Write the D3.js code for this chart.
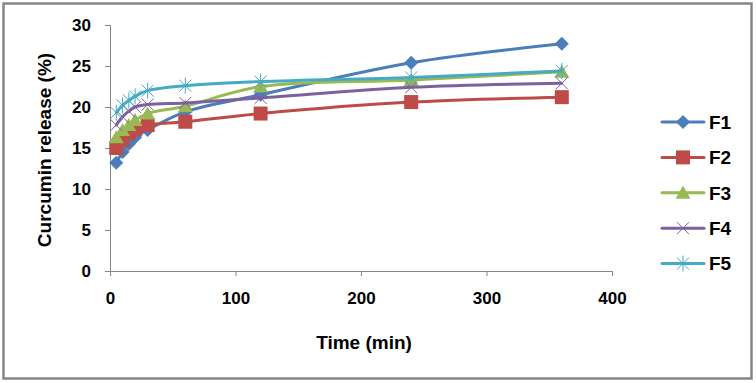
<!DOCTYPE html>
<html>
<head>
<meta charset="utf-8">
<script src="https://cdn.jsdelivr.net/npm/d3@7/dist/d3.min.js"></script>
<style>
  body { margin: 0; background: #fff; }
  svg { display: block; font-family: "Liberation Sans", Arial, sans-serif; }
</style>
</head>
<body>
<svg id="chart" width="756" height="383"></svg>
<script>
// sampling times (min)
const times = [5, 10, 15, 20, 30, 60, 120, 240, 360];

// curcumin release (%) per formulation
const f1 = [13.2, 14.5, 15.5, 16.3, 17.2, 19.4, 21.5, 25.4, 27.7];
const f2 = [15.0, 16.0, 16.8, 17.3, 17.8, 18.2, 19.2, 20.6, 21.2];
const f3 = [16.3, 17.2, 17.8, 18.4, 19.2, 20.1, 22.5, 23.3, 24.3];
const f4 = [17.8, 18.8, 19.5, 20.0, 20.3, 20.5, 21.1, 22.4, 22.9];
const f5 = [19.3, 20.2, 20.8, 21.3, 22.0, 22.6, 23.1, 23.6, 24.4];

const seriesNames = ['F1', 'F2', 'F3', 'F4', 'F5'];
const seriesValues = [f1, f2, f3, f4, f5];
const colors = ['#4A7EBB', '#BE4B48', '#98B954', '#7D60A0', '#46AAC5'];
const markers = ['diamond', 'square', 'triangle', 'x', 'star'];

const xTicks = [0, 100, 200, 300, 400];
const yTicks = [0, 5, 10, 15, 20, 25, 30];

const svg = d3.select('#chart');
const margin = { top: 25, left: 110, right: 144, bottom: 112 };
const width = 756 - margin.left - margin.right;
const height = 383 - margin.top - margin.bottom;

// chart area border
svg.append('rect')
  .attr('x', 3.5).attr('y', 3.5)
  .attr('width', 748).attr('height', 375)
  .attr('fill', '#fff')
  .attr('stroke', '#868686')
  .attr('stroke-width', 2.5);

const g = svg.append('g')
  .attr('transform', `translate(${margin.left},${margin.top})`);

const x = d3.scaleLinear().domain([0, 400]).range([0, width]);
const y = d3.scaleLinear().domain([0, 30]).range([height, 0]);

// Y axis
const yAxis = g.append('g')
  .call(d3.axisLeft(y).tickValues(yTicks).tickSize(5).tickPadding(14))
  .style('font-family', '"Liberation Sans", Arial, sans-serif')
  .style('font-size', '17px')
  .style('font-weight', 'bold');
yAxis.select('.domain').attr('stroke', '#868686');
yAxis.selectAll('.tick line').attr('stroke', '#868686');
yAxis.selectAll('.tick text').attr('fill', '#000');

// X axis
const xAxis = g.append('g')
  .attr('transform', `translate(0,${height})`)
  .call(d3.axisBottom(x).tickValues(xTicks).tickSize(5).tickPadding(16))
  .style('font-family', '"Liberation Sans", Arial, sans-serif')
  .style('font-size', '17px')
  .style('font-weight', 'bold');
xAxis.select('.domain').attr('stroke', '#868686');
xAxis.selectAll('.tick line').attr('stroke', '#868686');
xAxis.selectAll('.tick text').attr('fill', '#000');

// axis titles
svg.append('text')
  .attr('x', 364).attr('y', 349)
  .attr('text-anchor', 'middle')
  .style('font-size', '19px').style('font-weight', 'bold')
  .text('Time (min)');

svg.append('text')
  .attr('transform', 'translate(51,150) rotate(-90)')
  .attr('text-anchor', 'middle')
  .style('font-size', '19px').style('font-weight', 'bold')
  .text('Curcumin release (%)');

function drawMarker(sel, type, color) {
  if (type === 'diamond') {
    sel.append('path').attr('d', 'M0,-7L7,0L0,7L-7,0Z').attr('fill', color);
  } else if (type === 'square') {
    sel.append('rect').attr('x', -7).attr('y', -7).attr('width', 14).attr('height', 14).attr('fill', color);
  } else if (type === 'triangle') {
    sel.append('path').attr('d', 'M0,-7L7.5,6L-7.5,6Z').attr('fill', color);
  } else if (type === 'x') {
    sel.append('path').attr('d', 'M-6,-6L6,6M-6,6L6,-6')
      .attr('stroke', color).attr('stroke-width', 1).attr('fill', 'none');
  } else if (type === 'star') {
    sel.append('path').attr('d', 'M-6,-6L6,6M-6,6L6,-6M0,-8L0,8')
      .attr('stroke', color).attr('stroke-width', 1).attr('fill', 'none');
  }
}

const line = d3.line()
  .x(d => x(d[0]))
  .y(d => y(d[1]))
  .curve(d3.curveCatmullRom.alpha(0.5));

seriesValues.forEach((vals, i) => {
  const pts = times.map((t, j) => [t, vals[j]]);
  const sg = g.append('g');
  sg.append('path')
    .datum(pts)
    .attr('fill', 'none')
    .attr('stroke', colors[i])
    .attr('stroke-width', 3)
    .attr('stroke-linecap', 'round')
    .attr('d', line);
  pts.forEach(p => {
    const m = sg.append('g').attr('transform', `translate(${x(p[0])},${y(p[1])})`);
    drawMarker(m, markers[i], colors[i]);
  });
});

// legend
const legend = svg.append('g').attr('transform', 'translate(662,122)');
seriesNames.forEach((name, i) => {
  const row = legend.append('g').attr('transform', `translate(0,${i * 35.4})`);
  row.append('line')
    .attr('x1', 0).attr('x2', 42)
    .attr('stroke', colors[i]).attr('stroke-width', 3)
    .attr('stroke-linecap', 'round');
  const m = row.append('g').attr('transform', 'translate(21,0)');
  drawMarker(m, markers[i], colors[i]);
  row.append('text')
    .attr('x', 47).attr('y', 0)
    .attr('dy', '0.36em')
    .style('font-size', '19px').style('font-weight', 'bold')
    .text(name);
});
</script>
</body>
</html>
